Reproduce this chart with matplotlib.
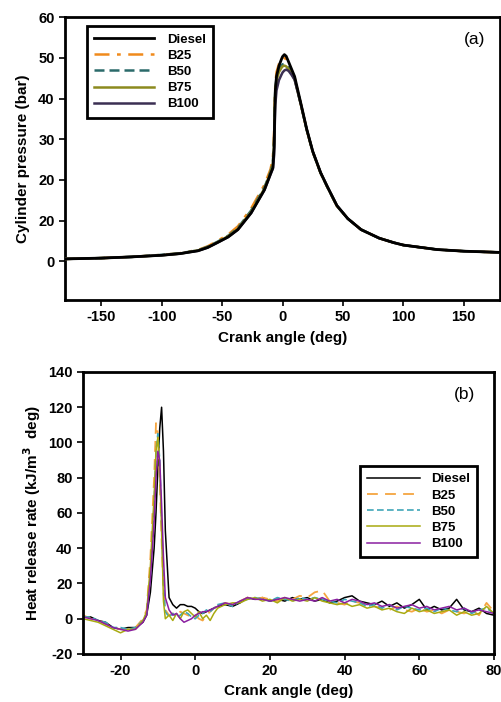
import numpy as np
import matplotlib
matplotlib.use("Agg")
from matplotlib import pyplot as plt

plt.rcParams['font.family'] = ['Liberation Sans', 'DejaVu Sans']
plt.rcParams['font.weight'] = 'bold'
plt.rcParams['axes.unicode_minus'] = False

series = ["Diesel", "B25", "B50", "B75", "B100"]

# (a) cylinder pressure vs crank angle
crank_a = [-180, -150, -125, -100, -85, -70, -62, -54, -45, -37, -26, -20, -15, -10, -8, -7, -6.5, -6, -5, -3, -1, 0,
           1.5, 3, 5, 7.5, 10, 15, 20, 25, 31.5, 37, 45, 54, 65, 80, 92, 100, 128, 150, 180]
p_diesel = [0.6, 0.8, 1.1, 1.5, 1.9, 2.6, 3.4, 4.6, 6.0, 7.8, 11.9, 15.0, 17.6, 21.5, 23.0, 28.0, 36.0, 42.0, 45.5, 48.0, 49.6, 50.3,
            50.8, 50.4, 49.0, 47.2, 45.4, 39.0, 32.5, 27.0, 21.8, 18.4, 13.7, 10.5, 7.8, 5.7, 4.6, 4.0, 2.9, 2.5, 2.2]
p_b25 = [0.6, 0.8, 1.1, 1.6, 2.0, 2.8, 3.7, 5.0, 6.6, 8.6, 13.0, 16.2, 18.8, 22.6, 25.5, 32.0, 39.0, 43.5, 46.5, 48.5, 49.5, 50.0,
         50.0, 49.6, 48.5, 46.8, 45.1, 38.8, 32.3, 26.9, 21.7, 18.3, 13.6, 10.5, 7.8, 5.7, 4.6, 4.0, 2.9, 2.5, 2.2]
p_b50 = [0.6, 0.8, 1.1, 1.6, 2.0, 2.7, 3.6, 4.8, 6.3, 8.2, 12.5, 15.6, 18.2, 22.0, 24.5, 30.0, 38.0, 42.5, 45.0, 47.0, 48.0, 48.4,
         48.5, 48.3, 47.5, 46.2, 44.8, 38.7, 32.3, 26.9, 21.7, 18.3, 13.6, 10.5, 7.8, 5.7, 4.6, 4.0, 2.9, 2.5, 2.2]
p_b75 = [0.6, 0.8, 1.1, 1.5, 1.9, 2.7, 3.5, 4.7, 6.2, 8.0, 12.2, 15.3, 17.9, 21.8, 24.0, 29.0, 37.0, 42.0, 44.5, 46.5, 47.5, 47.9,
         48.1, 47.9, 47.2, 46.0, 44.7, 38.7, 32.3, 26.9, 21.7, 18.3, 13.6, 10.5, 7.8, 5.7, 4.6, 4.0, 2.9, 2.5, 2.2]
p_b100 = [0.6, 0.8, 1.1, 1.5, 1.9, 2.6, 3.4, 4.6, 6.0, 7.8, 11.9, 15.0, 17.5, 21.3, 22.8, 26.0, 33.0, 38.5, 42.0, 44.5, 45.8, 46.4,
          46.9, 47.1, 46.8, 45.8, 44.6, 38.8, 32.4, 27.0, 21.8, 18.4, 13.7, 10.5, 7.8, 5.7, 4.6, 4.0, 2.9, 2.5, 2.2]

# (b) heat release rate vs crank angle
crank_b = [-30, -28, -26, -24, -22, -20, -18, -16, -14, -13, -12, -11, -10.5, -10, -9.5, -9, -8.5, -8,
           -7, -6, -5, -4, -3, -2, -1, 0, 1, 2, 3, 4, 5, 6,
           8, 10, 12, 14, 16, 18, 20, 22, 24, 26, 28, 30, 32, 34, 36, 38, 40, 42, 44,
           46, 48, 50, 52, 54, 56, 58, 60, 62, 64, 66, 68, 70, 72, 74, 76, 78, 80]
h_diesel = [1, 1, -1, -2, -5, -6, -5, -5, -2, 2, 15, 40, 60, 85, 108, 120, 95, 50,
            12, 8, 6, 8, 8, 7, 7, 6, 4, 3, 4, 5, 6, 7,
            8, 7, 9, 12, 11, 12, 10, 11, 10, 12, 11, 12, 10, 11, 9, 10, 12, 13, 10,
            9, 8, 10, 7, 9, 6, 8, 11, 5, 7, 5, 6, 11, 5, 4, 6, 3, 2]
h_b25 = [2, 0, -1, -3, -5, -6, -6, -5, 0, 5, 35, 80, 111, 105, 80, 45, 15, 5,
         2, 3, 2, 4, 3, 2, 1, 2, 0, -1, 2, 4, 6, 7,
         9, 8, 10, 12, 11, 12, 11, 10, 12, 11, 13, 12, 15, 16, 10, 9, 8, 10, 9,
         8, 7, 6, 5, 7, 5, 4, 6, 4, 5, 3, 5, 4, 3, 5, 2, 9, 4]
h_b50 = [1, 1, -1, -2, -5, -5, -6, -5, -1, 3, 25, 65, 95, 105, 90, 55, 20, 4,
         1, 3, 1, 2, 4, 3, 1, 0, 2, 3, 5, 4, 6, 8,
         9, 7, 10, 11, 12, 11, 10, 12, 11, 10, 12, 11, 12, 11, 10, 9, 11, 10, 9,
         7, 8, 6, 8, 5, 7, 6, 5, 6, 4, 6, 5, 4, 6, 3, 5, 6, 3]
h_b75 = [0, -1, -2, -4, -6, -8, -6, -6, -1, 4, 30, 70, 95, 103, 85, 50, 10, 0,
         2, -1, 3, 0, 4, 5, 3, 1, 4, 0, 2, -1, 3, 6,
         8, 9, 9, 11, 12, 10, 11, 9, 12, 10, 11, 10, 12, 10, 9, 8, 9, 7, 8,
         6, 7, 5, 6, 4, 3, 6, 4, 5, 3, 4, 5, 2, 4, 2, 3, 7, 3]
h_b100 = [1, 0, -1, -3, -5, -6, -7, -6, -2, 2, 22, 55, 80, 95, 90, 65, 35, 12,
          5, 2, 3, 0, -2, -1, 0, 2, 3, 4, 4, 5, 6, 7,
          9, 8, 10, 12, 11, 11, 10, 11, 12, 11, 10, 11, 10, 12, 10, 11, 9, 11, 10,
          8, 9, 7, 8, 6, 7, 8, 6, 7, 5, 6, 7, 5, 6, 4, 5, 4, 3]

fig = plt.figure(figsize=(5.01, 7.02), dpi=100)
ax1 = fig.add_axes([0.130, 0.5726, 0.868, 0.403])
ax2 = fig.add_axes([0.166, 0.0684, 0.820, 0.4017])

styles_a = [
    dict(color="black", lw=2.0, ls="-", zorder=6),
    dict(color="#f08a1c", lw=1.8, ls=(0, (6, 3, 1.5, 3)), zorder=3),
    dict(color="#2b6a6a", lw=1.8, ls=(0, (4, 2)), zorder=3),
    dict(color="#8c8a1e", lw=1.8, ls="-", zorder=3),
    dict(color="#3b2f52", lw=1.8, ls="-", zorder=4),
]
styles_b = [
    dict(color="black", lw=1.1, ls="-"),
    dict(color="#f5a540", lw=1.3, ls=(0, (6, 4))),
    dict(color="#3ea6b8", lw=1.2, ls=(0, (4, 2))),
    dict(color="#a8aa10", lw=1.1, ls="-"),
    dict(color="#8a1fa0", lw=1.1, ls="-"),
]

data_a = [p_diesel, p_b25, p_b50, p_b75, p_b100]
data_b = [h_diesel, h_b25, h_b50, h_b75, h_b100]

for name, ys, st in zip(series, data_a, styles_a):
    ax1.plot(crank_a, ys, label=name, **st)
for name, ys, st in zip(series, data_b, styles_b):
    ax2.plot(crank_b, ys, label=name, **st)

# panel (a)
ax1.set_xlim(-180, 180)
ax1.set_ylim(-9.5, 60)
ax1.set_xticks([-150, -100, -50, 0, 50, 100, 150])
ax1.set_yticks([0, 10, 20, 30, 40, 50, 60])
ax1.set_yticklabels(["0", "20", "20", "30", "40", "50", "60"])
ax1.set_xlabel("Crank angle (deg)", fontsize=11, fontweight="bold", labelpad=5)
ax1.set_ylabel("Cylinder pressure (bar)", fontsize=11, fontweight="bold", labelpad=6)
ax1.text(0.965, 0.905, "(a)", transform=ax1.transAxes, fontsize=12.5, fontweight="normal", ha="right")

# panel (b)
ax2.set_xlim(-30, 80)
ax2.set_ylim(-20, 140)
ax2.set_xticks([-20, 0, 20, 40, 60, 80])
ax2.set_yticks([-20, 0, 20, 40, 60, 80, 100, 120, 140])
ax2.set_xlabel("Crank angle (deg)", fontsize=11, fontweight="bold", labelpad=4)
ax2.set_ylabel("Heat release rate (kJ/m$^\\mathbf{3}$  deg)", fontsize=11, fontweight="bold", labelpad=4)
ax2.text(0.955, 0.905, "(b)", transform=ax2.transAxes, fontsize=12.5, fontweight="normal", ha="right")

for ax in (ax1, ax2):
    for s in ax.spines.values():
        s.set_linewidth(2.0)
    ax.tick_params(direction="out", length=4, width=1.2, labelsize=10.5, top=False, right=False)
    for lab in ax.get_xticklabels() + ax.get_yticklabels():
        lab.set_fontweight("bold")

leg1 = ax1.legend(loc="upper left", bbox_to_anchor=(0.05, 0.968), borderaxespad=0, fontsize=9.5,
                  handlelength=4.5, handletextpad=1.0, labelspacing=0.3, borderpad=0.55,
                  fancybox=False, framealpha=1)
leg1.get_frame().set_edgecolor("black")
leg1.get_frame().set_linewidth(2.0)
leg2 = ax2.legend(loc="upper left", bbox_to_anchor=(0.674, 0.667), borderaxespad=0, fontsize=9.5,
                  handlelength=4.0, handletextpad=0.8, labelspacing=0.3, borderpad=0.55,
                  fancybox=False, framealpha=1)
leg2.get_frame().set_edgecolor("black")
leg2.get_frame().set_linewidth(2.0)

fig.savefig("out.png", dpi=100)
